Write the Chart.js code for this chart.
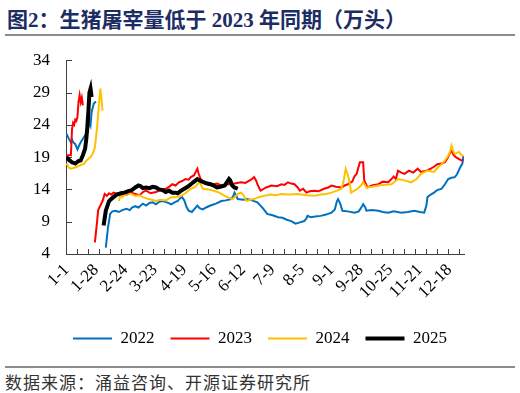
<!DOCTYPE html>
<html>
<head>
<meta charset="utf-8">
<script src="https://cdn.jsdelivr.net/npm/chart.js@4.4.0/dist/chart.umd.min.js"></script>
<style>
  html, body { margin: 0; padding: 0; background: #fff; }
  body { width: 520px; height: 393px; position: relative; overflow: hidden; }
  #title { position: absolute; left: 7px; top: 3px; font: bold 21px "Liberation Serif", "Noto Sans CJK SC", serif; color: #1c2d64; white-space: nowrap; }
  .rule { position: absolute; left: 5px; width: 510px; height: 2px; background: #8c8c8c; }
  #src { position: absolute; left: 5px; top: 369px; font: 17px "Noto Sans CJK SC", sans-serif; color: #333; letter-spacing: 1px; white-space: nowrap; }
  #wrap { position: absolute; left: 0; top: 34px; width: 520px; height: 323px; }
</style>
</head>
<body>
<div id="title">图2：生猪屠宰量低于 2023 年同期（万头）</div>
<div class="rule" style="top:34px"></div>
<div id="wrap"><canvas id="slaughterChart"></canvas></div>
<div class="rule" style="top:366px"></div>
<div id="src">数据来源：涌益咨询、开源证券研究所</div>

<script>
// ===================================
// Data (day index from 1-1, null = gap around Spring Festival)
// ===================================
const dateLabels = ['1-1', '1-28', '2-24', '3-23', '4-19', '5-16', '6-12', '7-9', '8-5', '9-1', '9-28', '10-25', '11-21', '12-18'];
const labelDays = [0, 27, 54, 81, 108, 135, 162, 189, 216, 243, 270, 297, 324, 351];
const yTicks = [4, 9, 14, 19, 24, 29, 34];
const seriesNames = ['2022', '2023', '2024', '2025'];

const days2022 = [0, 2, 4, 5, 6, 8, 10, 11, 13, 16, 18, 20, 21, 22, 23, 25, 27, 31,
    36, 38, 40, 42, 45, 48, 51, 55, 58, 60, 63, 66, 70, 73, 76, 79, 82, 85, 88, 92, 96, 99, 102, 104, 106, 108, 110, 112, 115, 117, 120, 122, 125, 128, 132, 137, 142, 146, 151, 153, 154, 156, 157, 162, 166, 170, 175, 180, 184, 189, 194, 198, 202, 206, 210, 214, 218, 220, 221, 224, 228, 233, 238, 243, 246, 248, 249, 251, 253, 258, 264, 268, 271, 272, 274, 275, 280, 286, 290, 295, 300, 307, 313, 319, 324, 328, 330, 331, 334, 337, 340, 344, 347, 350, 353, 356, 358, 361, 363, 364];
const vals2022 = [22.6, 21.9, 21.3, 21.7, 21.3, 21.0, 20.2, 20.6, 21.3, 22.1, 22.6, 23.6, 24.6, 24.0, 26.0, 27.3, 27.6, null,
    5.0, 8.1, 10.2, 10.6, 10.7, 10.5, 10.8, 11.0, 10.8, 11.2, 11.4, 11.2, 11.8, 11.5, 11.9, 12.0, 11.7, 12.1, 12.2, 12.0, 11.7, 12.0, 12.2, 12.6, 12.8, 12.3, 11.3, 10.7, 10.5, 10.9, 11.5, 11.1, 10.9, 11.2, 11.5, 11.8, 12.2, 12.3, 12.5, 13.0, 13.5, 12.9, 12.5, 12.4, 12.5, 12.3, 12.0, 11.1, 10.2, 10.0, 9.7, 9.6, 9.3, 9.1, 8.7, 8.9, 9.1, 9.5, 9.9, 9.7, 9.8, 9.9, 10.1, 10.4, 10.9, 12.2, 12.5, 11.8, 10.7, 10.6, 10.4, 10.6, 11.4, 11.7, 11.2, 10.7, 10.8, 10.7, 10.5, 10.4, 10.6, 10.4, 10.5, 10.7, 10.5, 10.4, 11.5, 12.8, 13.2, 13.5, 13.9, 14.1, 14.8, 15.6, 15.8, 15.9, 16.3, 17.4, 18.0, 19.2];

const days2023 = [0, 4, 5, 6, 7, 8, 9, 10, 11, 12, 13, 14, 15, 20,
    26, 28, 29, 31, 33, 35, 37, 39, 41, 43, 47, 51, 55, 59, 63, 67, 70, 73, 77, 82, 86, 91, 94, 97, 100, 103, 106, 109, 112, 114, 117, 119, 120, 121, 123, 126, 130, 135, 138, 142, 146, 149, 154, 160, 164, 168, 170, 172, 174, 175, 177, 178, 181, 183, 188, 193, 197, 200, 203, 206, 209, 212, 214, 217, 220, 223, 227, 231, 236, 240, 243, 247, 252, 255, 258, 262, 264, 266, 268, 269, 272, 273, 276, 280, 286, 290, 295, 298, 300, 302, 304, 307, 310, 314, 318, 322, 325, 330, 334, 337, 340, 344, 347, 350, 352, 353, 355, 357, 360, 362, 364];
const vals2023 = [19.3, 19.3, 23.3, 24.3, 24.0, 24.8, 24.6, 25.2, 27.6, 28.6, 27.5, 28.2, 27.0, null,
    5.8, 9.0, 10.8, 11.5, 12.2, 13.3, 13.0, 13.4, 13.2, 13.5, 13.3, 13.5, 13.2, 13.5, 13.3, 13.1, 13.6, 13.8, 13.4, 13.6, 13.9, 14.1, 14.4, 14.8, 14.6, 15.1, 15.3, 15.6, 15.5, 15.9, 16.2, 16.9, 17.2, 16.5, 15.6, 15.1, 15.0, 14.8, 14.9, 14.6, 14.7, 14.8, 14.9, 15.1, 15.0, 15.4, 15.6, 15.9, 15.3, 14.8, 14.1, 13.8, 14.1, 14.3, 14.6, 14.5, 14.8, 14.7, 15.1, 14.9, 14.8, 14.3, 13.8, 14.1, 13.5, 13.7, 13.8, 13.7, 14.1, 14.3, 14.6, 14.4, 14.3, 14.6, 14.8, 15.2, 16.0, 16.4, 17.6, 18.2, 18.2, 15.4, 14.3, 14.6, 14.8, 15.2, 15.1, 15.6, 16.0, 15.6, 16.9, 16.6, 16.4, 16.9, 16.6, 17.2, 16.7, 16.9, 17.2, 17.5, 17.9, 18.0, 18.2, 19.0, 19.8, 20.0, 19.3, 19.0, 18.7, 18.5, 18.5];

const days2024 = [0, 2, 4, 8, 12, 16, 19, 22, 24, 26, 28, 30, 31, 32, 33, 40,
    48, 49, 50, 51, 54, 58, 63, 67, 70, 75, 78, 82, 86, 91, 96, 100, 105, 109, 114, 118, 120, 122, 125, 130, 135, 140, 145, 149, 152, 155, 157, 160, 162, 165, 168, 172, 176, 181, 187, 192, 197, 204, 212, 220, 227, 233, 238, 243, 248, 252, 254, 256, 258, 259, 261, 264, 267, 270, 272, 274, 275, 280, 286, 292, 298, 304, 310, 316, 321, 325, 331, 337, 341, 344, 347, 350, 352, 353, 355, 356, 360, 362, 364];
const vals2024 = [18.0, 17.4, 17.2, 17.4, 17.7, 18.0, 18.6, 19.0, 19.5, 20.5, 23.6, 27.8, 29.6, 28.0, 26.2, null,
    12.2, 12.9, 13.4, 12.8, 13.3, 13.4, 13.0, 13.1, 12.8, 12.5, 12.4, 12.2, 12.4, 12.3, 12.8, 12.8, 13.0, 13.4, 14.1, 14.4, 14.8, 15.1, 14.1, 14.0, 13.8, 13.5, 13.0, 12.7, 12.5, 12.9, 13.3, 13.5, 13.2, 12.2, 12.4, 12.5, 12.8, 13.0, 13.2, 13.1, 13.3, 13.2, 13.3, 13.1, 13.0, 13.2, 13.3, 13.5, 13.8, 14.1, 15.2, 17.2, 16.2, 15.6, 13.5, 13.8, 14.1, 14.6, 15.1, 14.6, 14.3, 14.4, 14.6, 14.7, 14.8, 15.6, 15.4, 15.1, 15.6, 16.4, 16.9, 16.7, 17.5, 17.9, 18.5, 19.2, 20.0, 20.8, 19.8, 19.5, 19.8, 19.3, 19.2];

const days2025 = [0, 2, 5, 8, 11, 13, 15, 17, 18, 19, 20, 21, 22, 23, 28,
    34, 36, 39, 41, 43, 46, 50, 53, 56, 60, 63, 66, 68, 70, 73, 76, 79, 82, 85, 88, 91, 94, 97, 100, 102, 105, 108, 111, 114, 117, 120, 123, 126, 129, 132, 135, 138, 141, 145, 147, 149, 150, 152, 154, 157];
const vals2025 = [19.0, 18.6, 18.2, 18.0, 18.4, 18.5, 19.3, 20.3, 21.6, 23.5, 26.0, 29.0, 29.6, 28.3, null,
    8.4, 10.7, 12.2, 12.5, 12.8, 13.2, 13.4, 13.5, 13.7, 13.9, 14.3, 14.6, 14.5, 14.2, 14.3, 14.2, 14.4, 14.3, 14.0, 13.9, 13.6, 13.8, 13.5, 13.5, 13.4, 13.8, 14.1, 14.4, 14.8, 15.2, 15.6, 15.3, 15.1, 14.9, 14.8, 14.6, 14.3, 14.4, 14.6, 15.1, 15.6, 15.4, 14.6, 14.3, 14.1];

const minorTickStep = 10; // small axis ticks every 10 days
const serifFont = '"Liberation Serif", "Times New Roman", serif';

function toPoints(days, vals) {
    return days.map((d, i) => ({ x: d, y: vals[i] }));
}

// Inward tick marks on both axes
const innerTicks = {
    id: 'innerTicks',
    beforeDatasetsDraw(chart) {
        const { ctx, chartArea, scales } = chart;
        const x = scales.x, y = scales.y;
        ctx.save();
        ctx.strokeStyle = '#404040';
        ctx.lineWidth = 1;
        ctx.beginPath();
        for (let v = -0.5; v <= 364.5; v += minorTickStep) {
            const px = Math.round(x.getPixelForValue(v)) + 0.5;
            ctx.moveTo(px, chartArea.bottom);
            ctx.lineTo(px, chartArea.bottom - 5);
        }
        yTicks.forEach(v => {
            const py = Math.round(y.getPixelForValue(v)) + 0.5;
            ctx.moveTo(chartArea.left, py);
            ctx.lineTo(chartArea.left + 6, py);
        });
        ctx.stroke();
        ctx.restore();
    }
};

const colors = ['#0070C0', '#FF0000', '#FFC000', '#000000'];
const widths = [2, 2, 2, 4];
const allDays = [days2022, days2023, days2024, days2025];
const allVals = [vals2022, vals2023, vals2024, vals2025];

new Chart(document.getElementById('slaughterChart'), {
    type: 'line',
    data: {
        datasets: seriesNames.map((name, i) => ({
            label: name,
            data: toPoints(allDays[i], allVals[i]),
            borderColor: colors[i],
            backgroundColor: colors[i],
            borderWidth: widths[i],
            pointRadius: 0,
            pointStyle: 'line',
            tension: 0,
            spanGaps: false,
            fill: false,
            order: 3 - i
        }))
    },
    options: {
        responsive: true,
        maintainAspectRatio: false,
        animation: false,
        layout: { padding: { left: 0, right: 0, top: 10, bottom: 0 } },
        plugins: {
            legend: {
                display: true,
                position: 'bottom',
                labels: {
                    usePointStyle: true,
                    pointStyleWidth: 39,
                    padding: 16,
                    color: '#000',
                    font: { family: serifFont, size: 17 },
                    sort: (a, b) => a.datasetIndex - b.datasetIndex
                }
            },
            tooltip: { enabled: false }
        },
        scales: {
            x: {
                type: 'linear',
                min: -0.5,
                max: 364.5,
                afterBuildTicks: s => { s.ticks = labelDays.map(v => ({ value: v })); },
                afterFit: s => { s.height = 60; },
                grid: { display: false, drawTicks: false },
                border: { display: true, color: '#404040', width: 1 },
                ticks: {
                    autoSkip: false,
                    minRotation: 45,
                    maxRotation: 45,
                    padding: 6,
                    color: '#000',
                    font: { family: serifFont, size: 17 },
                    callback: (v, i) => dateLabels[i]
                }
            },
            y: {
                min: 4,
                max: 34,
                afterBuildTicks: s => { s.ticks = yTicks.map(v => ({ value: v })); },
                afterFit: s => { s.width = 66; },
                grid: { display: false, drawTicks: false },
                border: { display: true, color: '#404040', width: 1 },
                ticks: {
                    padding: 16,
                    color: '#000',
                    font: { family: serifFont, size: 17 }
                }
            },
            // empty right-hand spacer so the plot ends where the reference does
            spacer: {
                position: 'right',
                min: 0,
                max: 1,
                afterFit: s => { s.width = 56; },
                grid: { display: false, drawTicks: false },
                border: { display: false },
                ticks: { display: false }
            }
        }
    },
    plugins: [innerTicks]
});
</script>
</body>
</html>
